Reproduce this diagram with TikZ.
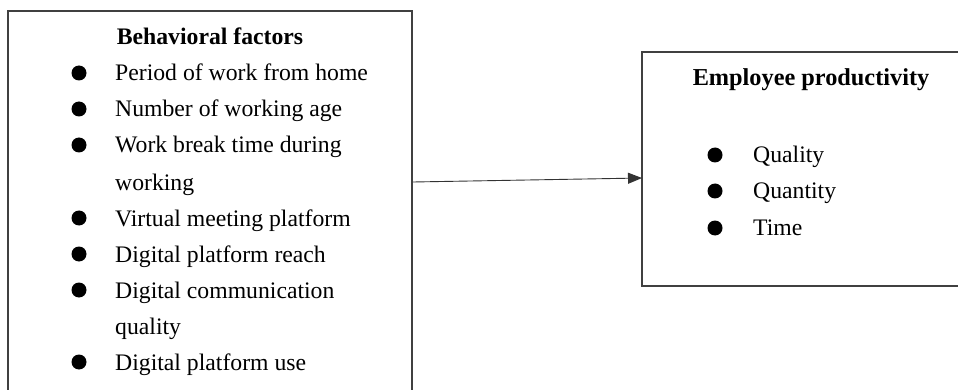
\documentclass[tikz,border=0pt]{standalone}
\usepackage{fontspec}
\setmainfont{Liberation Serif}
\usetikzlibrary{arrows.meta}
\begin{document}
\begin{tikzpicture}[x=1pt,y=-1pt,
  frame/.style={draw=black!75,line width=1.1pt,fill=none,inner sep=0pt},
  txt/.style={anchor=base west,inner sep=0pt,font=\fontsize{23.7}{28}\selectfont},
  ttl/.style={anchor=base,inner sep=0pt,font=\fontsize{23.7}{28}\selectfont\bfseries},
  dot/.style={circle,fill=black,inner sep=0pt,minimum size=15pt},
  link/.style={draw=black!80,line width=0.9pt,-{Triangle[length=14pt,width=11pt]}}]
\clip (0,0) rectangle (958,390);
\fill[white] (0,0) rectangle (958,390);
% boxes
\node[frame,minimum width=404pt,minimum height=400pt] (L) at (210,211) {};
\node[frame,minimum width=340pt,minimum height=234pt] (R) at (812,169) {};
% left box text
\node[ttl] (lt) at (210,45) {Behavioral factors};
\node[dot] (b1) at (79,73) {};
\node[txt] (t1) at (115,81) {Period of work from home};
\node[dot] (b2) at (79,109) {};
\node[txt] (t2) at (115,117) {Number of working age};
\node[dot] (b3) at (79,145) {};
\node[txt] (t3) at (115,153) {Work break time during};
\node[txt] (t3b) at (115,190) {working};
\node[dot] (b4) at (79,218) {};
\node[txt] (t4) at (115,226) {Virtual meeting platform};
\node[dot] (b5) at (79,254) {};
\node[txt] (t5) at (115,262) {Digital platform reach};
\node[dot] (b6) at (79,290) {};
\node[txt] (t6) at (115,298) {Digital communication};
\node[txt] (t6b) at (115,334) {quality};
\node[dot] (b7) at (79,362) {};
\node[txt] (t7) at (115,370) {Digital platform use};
% right box text
\node[ttl,font=\fontsize{24.3}{28}\selectfont\bfseries] (rt) at (811,86) {Employee productivity};
\node[dot] (c1) at (715,155) {};
\node[txt] (u1) at (753,163) {Quality};
\node[dot] (c2) at (715,191) {};
\node[txt] (u2) at (753,199) {Quantity};
\node[dot] (c3) at (715,228) {};
\node[txt] (u3) at (753,236) {Time};
% connector
\coordinate (a) at (413,182);
\coordinate (b) at (642,178);
\draw[link] (a) -- (b);
\end{tikzpicture}
\end{document}
